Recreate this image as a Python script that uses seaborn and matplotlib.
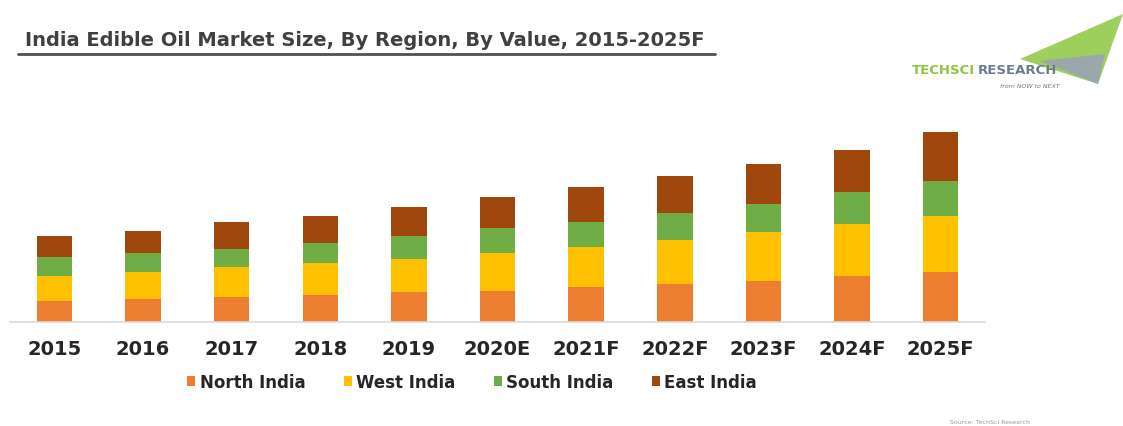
import numpy as np
import pandas as pd
import matplotlib.pyplot as plt
import seaborn as sns
from matplotlib.patches import Patch, Polygon

years = ["2015", "2016", "2017", "2018", "2019", "2020E",
         "2021F", "2022F", "2023F", "2024F", "2025F"]
north = [21, 23, 25, 27, 30, 31, 35, 38, 41, 46, 50]
west = [25, 27, 30, 32, 33, 38, 40, 44, 49, 52, 56]
south = [19, 19, 18, 20, 23, 25, 25, 27, 28, 32, 35]
east = [21, 22, 27, 27, 29, 31, 35, 37, 40, 42, 49]

regions = ["North India", "West India", "South India", "East India"]
colors = ["#ED7D31", "#FFC000", "#70AD47", "#A0470E"]

df = pd.DataFrame({"year": years, "North India": north, "West India": west,
                   "South India": south, "East India": east})

sns.set_style("white")
plt.rcParams["font.family"] = ["DejaVu Sans"]

fig = plt.figure(figsize=(11.23, 4.27), dpi=100)
ax = fig.add_axes([10 / 1123, 1 - 323 / 427, 975 / 1123, 210 / 427])

# stacked bars: draw cumulative totals from the top segment down
cum = np.zeros(len(years))
cums = []
for r in regions:
    cum = cum + df[r].values
    cums.append(cum.copy())
for r, c, total in reversed(list(zip(regions, colors, cums))):
    sns.barplot(x=years, y=total, color=c, width=0.4, saturation=1,
                ax=ax, linewidth=0, order=years)

ax.set_xlim(-0.5, len(years) - 0.5)
ax.set_ylim(0, 210)
ax.set_yticks([])
ax.set_ylabel("")
for s in ["top", "right", "left"]:
    ax.spines[s].set_visible(False)
ax.spines["bottom"].set_color("#d9d9d9")
ax.spines["bottom"].set_linewidth(1.2)
ax.set_xticks(range(len(years)))
ax.set_xticklabels(years, fontsize=14, fontweight="bold", color="#262626")
ax.set_xticks(np.arange(-0.5, len(years)), minor=True)
ax.tick_params(axis="x", which="major", length=0, pad=12)
ax.tick_params(axis="x", which="minor", length=5, color="#d9d9d9", width=1.2)

handles = [Patch(facecolor=c, edgecolor="none", label=r) for r, c in zip(regions, colors)]
fig.legend(handles=handles, loc="center", bbox_to_anchor=(472 / 1123, 1 - 383 / 427),
           ncol=4, frameon=False, handlelength=0.5, handleheight=0.5,
           handletextpad=0.25, columnspacing=2.3,
           prop={"weight": "bold", "size": 12})

# title with underline
fig.text(25 / 1123, 1 - 40 / 427, "India Edible Oil Market Size, By Region, By Value, 2015-2025F",
         fontsize=14, fontweight="bold", color="#404040", va="center", ha="left")
fig.add_artist(plt.Line2D([18 / 1123, 715 / 1123], [1 - 55 / 427, 1 - 55 / 427],
                          color="#505050", linewidth=2))

# logo
tri = Polygon([[1020 / 1123, 1 - 60 / 427], [1123 / 1123, 1 - 15 / 427],
               [1098 / 1123, 1 - 85 / 427]], closed=True,
              facecolor="#8DC63F", edgecolor="none", alpha=0.85)
fig.add_artist(tri)
tri2 = Polygon([[1040 / 1123, 1 - 62 / 427], [1105 / 1123, 1 - 55 / 427],
                [1098 / 1123, 1 - 85 / 427]], closed=True,
               facecolor="#9AA3B5", edgecolor="none", alpha=0.9)
fig.add_artist(tri2)
fig.text(912 / 1123, 1 - 70 / 427, "TECHSCI", fontsize=9.5, color="#8DC63F",
         va="center", ha="left", fontweight="bold")
fig.text(978 / 1123, 1 - 70 / 427, "RESEARCH", fontsize=9.5, color="#6B7A8F",
         va="center", ha="left", fontweight="bold")
fig.text(1000 / 1123, 1 - 86 / 427, "from NOW to NEXT", fontsize=4.5, color="#6B7A8F",
         va="center", ha="left", style="italic")

fig.text(1030 / 1123, 1 - 423 / 427, "Source: TechSci Research", fontsize=4.5,
         color="#999999", va="center", ha="right")

fig.savefig("out.png", dpi=100)
